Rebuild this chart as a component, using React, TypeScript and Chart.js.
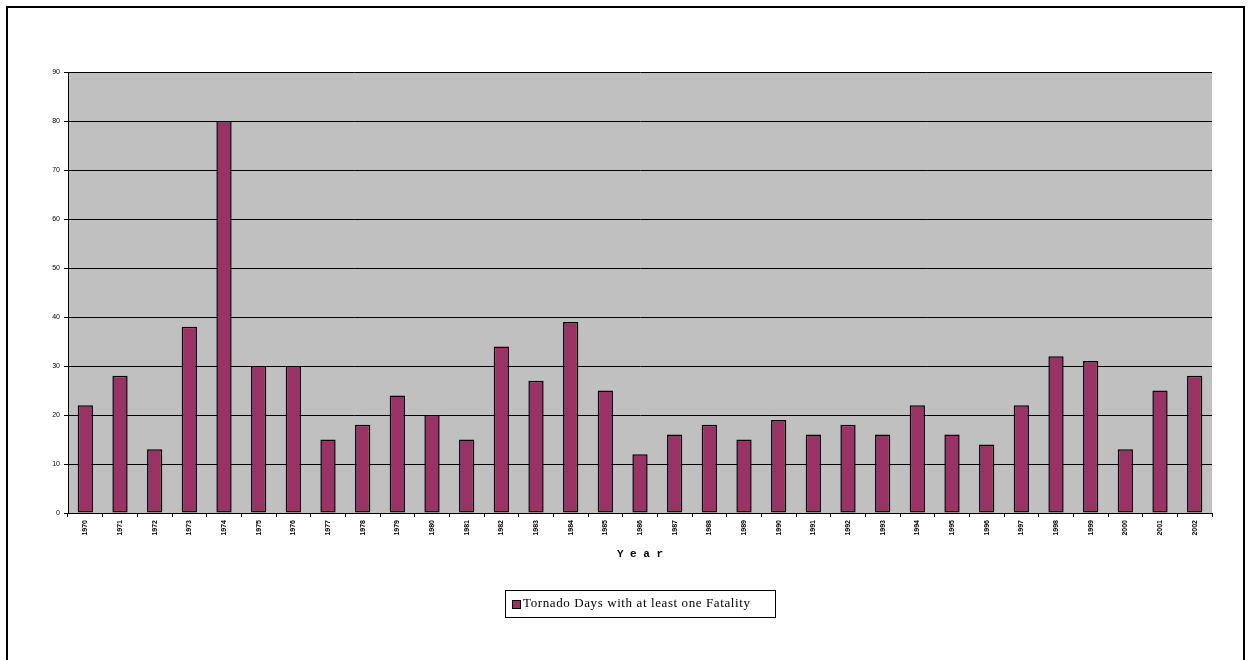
import React, { useEffect, useRef } from "react";
import { Chart, registerables } from "chart.js";
Chart.register(...registerables);

const years = ["1970","1971","1972","1973","1974","1975","1976","1977","1978","1979","1980","1981","1982","1983","1984","1985","1986","1987","1988","1989","1990","1991","1992","1993","1994","1995","1996","1997","1998","1999","2000","2001","2002"];
const fatalDays = [22,28,13,38,80,30,30,15,18,24,20,15,34,27,39,25,12,16,18,15,19,16,18,16,22,16,14,22,32,31,13,25,28];
const seriesLabel = "Tornado Days with at least one Fatality";
const axisTitle = "Year";

export default function App() {
  const ref = useRef<HTMLCanvasElement>(null);
  useEffect(() => {
    document.body.style.margin = "0";
    const extra = {
      id: "extra",
      afterDraw(c: any) {
        const ctx = c.ctx;
        const a = c.chartArea;
        const cx = (a.left + a.right) / 2;
        ctx.save();
        ctx.fillStyle = "#000";
        ctx.font = "bold 11px 'Liberation Mono', monospace";
        ctx.textAlign = "center";
        ctx.textBaseline = "middle";
        ctx.fillText(axisTitle.split("").join(" "), cx, 546);
        const lx = 497, ly = 582, lw = 270, lh = 27;
        ctx.strokeStyle = "#000";
        ctx.lineWidth = 1;
        ctx.strokeRect(lx + 0.5, ly + 0.5, lw, lh);
        ctx.fillStyle = "#993366";
        ctx.fillRect(lx + 7, ly + 10, 8, 8);
        ctx.strokeRect(lx + 7.5, ly + 10.5, 8, 8);
        ctx.fillStyle = "#000";
        ctx.font = "13px 'Liberation Serif', serif";
        ctx.textAlign = "left";
        (ctx as any).letterSpacing = "0.6px";
        ctx.fillText(seriesLabel, lx + 18, ly + 14);
        ctx.restore();
      },
    };
    const chart = new Chart(ref.current!, {
      type: "bar",
      data: {
        labels: years,
        datasets: [{
          label: seriesLabel,
          data: fatalDays,
          backgroundColor: "#993366",
          borderColor: "#000",
          borderWidth: 1.5,
          borderSkipped: false,
          barPercentage: 0.44,
          categoryPercentage: 1,
        }],
      },
      options: {
        responsive: false,
        animation: false,
        layout: { padding: { left: 0, top: 64, right: 31, bottom: 0 } },
        plugins: { legend: { display: false }, tooltip: { enabled: false } },
        scales: {
          x: {
            grid: { display: true, drawOnChartArea: false, color: "#000", tickLength: 4, offset: true },
            border: { color: "#000" },
            ticks: { maxRotation: 90, minRotation: 90, autoSkip: false, color: "#000", font: { size: 7, weight: "bold", family: "Arial" }, padding: 3 },
            afterFit: (s: any) => { s.height = 147; },
          },
          y: {
            min: 0, max: 90,
            ticks: { stepSize: 10, color: "#000", font: { size: 7, family: "Arial" }, padding: 4 },
            grid: { color: "#000", tickLength: 4 },
            border: { color: "#000" },
            afterFit: (s: any) => { s.width = 60; },
          },
        },
      },
      plugins: [
        { id: "bg", beforeDraw(c: any) { const a = c.chartArea; c.ctx.save(); c.ctx.fillStyle = "#c0c0c0"; c.ctx.fillRect(a.left, a.top, a.right - a.left, a.bottom - a.top); c.ctx.restore(); } },
        extra,
      ],
    } as any);
    return () => chart.destroy();
  }, []);
  return (
    <div style={{ position: "absolute", left: 6, top: 6, width: 1235, height: 670, border: "2px solid #000", background: "#fff" }}>
      <canvas ref={ref} width={1235} height={652} style={{ display: "block" }} />
    </div>
  );
}
